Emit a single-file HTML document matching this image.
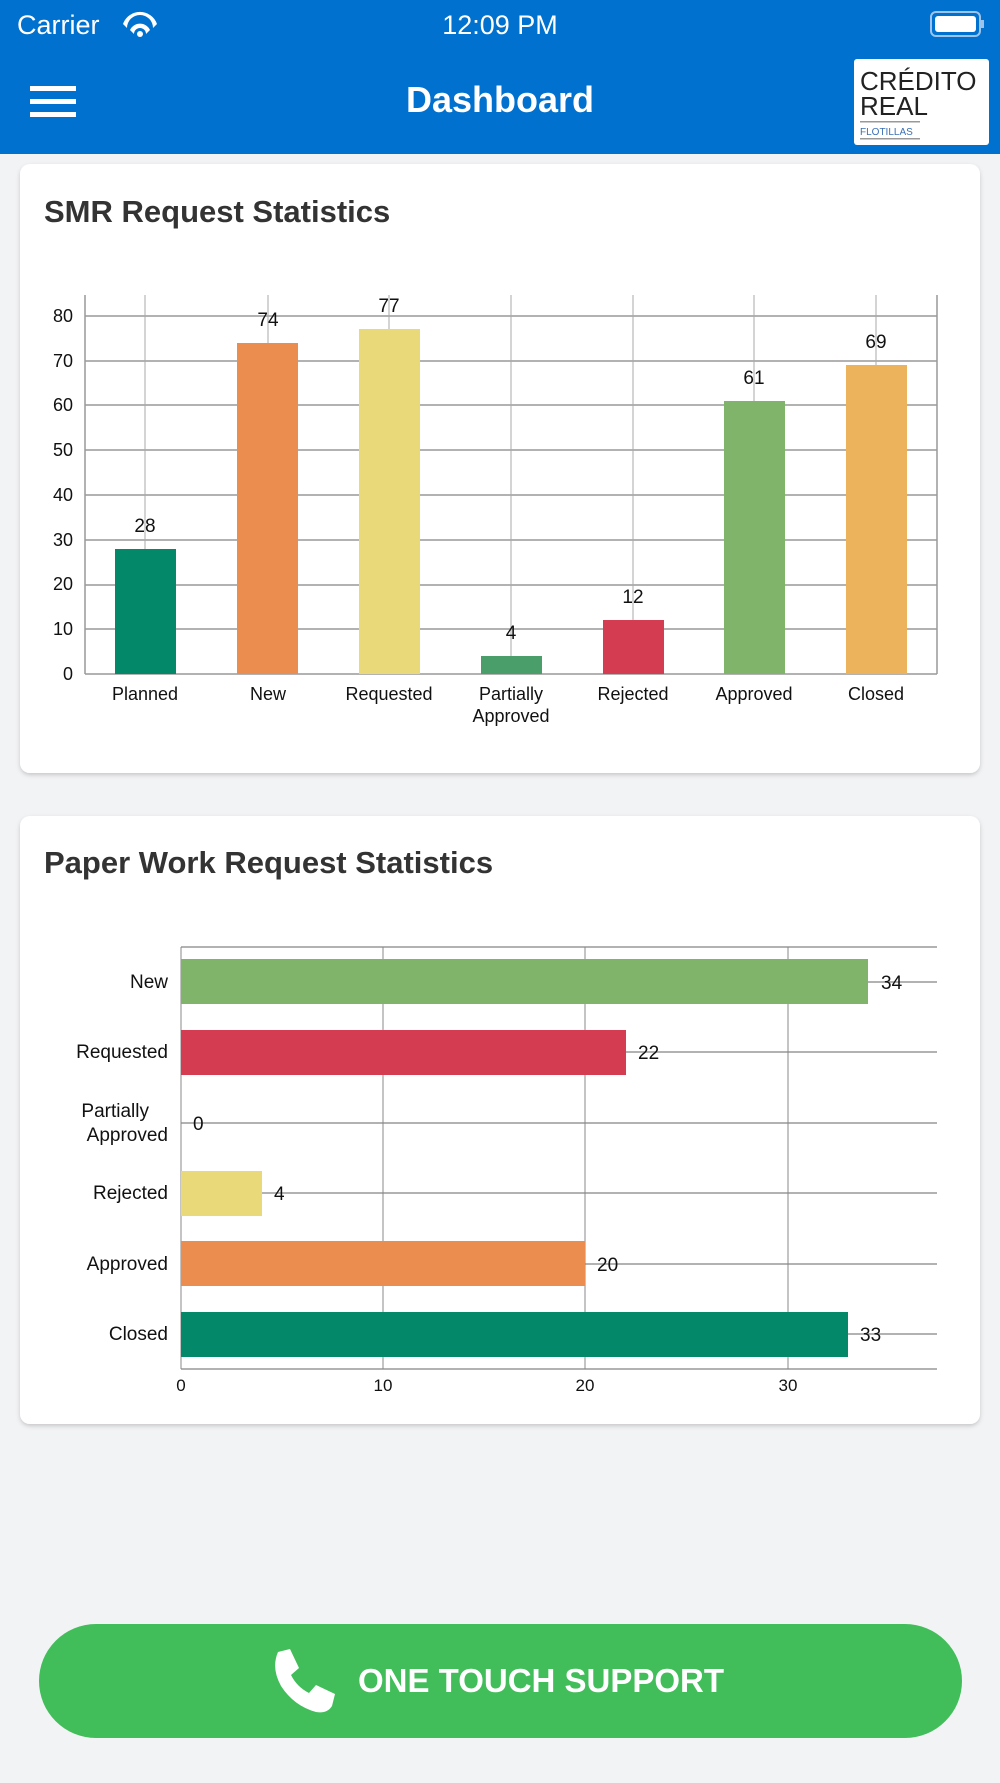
<!DOCTYPE html>
<html><head><meta charset="utf-8"><style>
html,body{margin:0;padding:0;background:#f2f3f5;}
body{width:1000px;height:1778px;overflow:hidden;font-family:"Liberation Sans",sans-serif;}
</style></head><body>
<svg width="1000" height="1778" xmlns="http://www.w3.org/2000/svg" font-family="Liberation Sans, sans-serif">
<defs><filter id="sh" x="-5%" y="-5%" width="110%" height="110%"><feDropShadow dx="0" dy="2" stdDeviation="2" flood-color="#000" flood-opacity="0.18"/></filter></defs>
<rect width="1000" height="1778" fill="#f2f3f5"/>
<rect width="1000" height="154" fill="#0071ce"/>
<text x="17" y="34" font-size="27" fill="#fff">Carrier</text>
<g fill="#fff"><path d="M123 24 a18 18 0 0 1 34 0 l-4 4 a13 13 0 0 0 -26 0z"/><path d="M130 30 a11 11 0 0 1 20 0 l-4 4 a6 6 0 0 0 -12 0z"/><circle cx="140" cy="34" r="3"/></g>
<text x="500" y="34" font-size="27" fill="#fff" text-anchor="middle">12:09 PM</text>
<rect x="931" y="12" width="49" height="24" rx="5" fill="none" stroke="#9cc3ec" stroke-width="2"/>
<rect x="935" y="16" width="41" height="16" rx="3" fill="#fff"/>
<rect x="981" y="20" width="3" height="8" fill="#9cc3ec"/>
<rect x="30" y="86" width="46" height="5" fill="#fff"/><rect x="30" y="99" width="46" height="5" fill="#fff"/><rect x="30" y="112" width="46" height="5" fill="#fff"/>
<text x="500" y="112" font-size="36" font-weight="bold" fill="#fff" text-anchor="middle">Dashboard</text>
<rect x="854" y="59" width="135" height="86" rx="3" fill="#fff"/>
<text x="860" y="90" font-size="26" fill="#222">CRÉDITO</text>
<text x="860" y="115" font-size="26" fill="#222">REAL</text>
<rect x="860" y="121" width="60" height="1.5" fill="#999"/>
<text x="860" y="135" font-size="10" fill="#3a6fb5">FLOTILLAS</text>
<rect x="860" y="138" width="60" height="1.5" fill="#999"/>

<rect x="20" y="164" width="960" height="609" rx="10" fill="#fff" filter="url(#sh)"/>
<text x="44" y="222" font-size="31" font-weight="bold" fill="#333">SMR Request Statistics</text>
<g stroke="#999" stroke-width="1.5">
<line x1="85" y1="674" x2="937" y2="674"/><line x1="85" y1="629" x2="937" y2="629"/><line x1="85" y1="585" x2="937" y2="585"/><line x1="85" y1="540" x2="937" y2="540"/><line x1="85" y1="495" x2="937" y2="495"/><line x1="85" y1="450" x2="937" y2="450"/><line x1="85" y1="405" x2="937" y2="405"/><line x1="85" y1="361" x2="937" y2="361"/><line x1="85" y1="316" x2="937" y2="316"/>
<line x1="85" y1="295" x2="85" y2="674"/><line x1="937" y1="295" x2="937" y2="674"/>
</g>
<g stroke="#aaa" stroke-width="1">
<line x1="145" y1="295" x2="145" y2="674"/><line x1="268" y1="295" x2="268" y2="674"/><line x1="389" y1="295" x2="389" y2="674"/><line x1="511" y1="295" x2="511" y2="674"/><line x1="633" y1="295" x2="633" y2="674"/><line x1="754" y1="295" x2="754" y2="674"/><line x1="876" y1="295" x2="876" y2="674"/>
</g>
<g>
<rect x="115" y="549" width="61" height="125" fill="#03896a"/>
<rect x="237" y="343" width="61" height="331" fill="#eb8d4e"/>
<rect x="359" y="329" width="61" height="345" fill="#e9d979"/>
<rect x="481" y="656" width="61" height="18" fill="#4a9e6a"/>
<rect x="603" y="620" width="61" height="54" fill="#d43c51"/>
<rect x="724" y="401" width="61" height="273" fill="#80b46b"/>
<rect x="846" y="365" width="61" height="309" fill="#ecb35c"/>
</g>
<g font-size="19" fill="#111" text-anchor="middle">
<text x="145" y="532">28</text><text x="268" y="326">74</text><text x="389" y="312">77</text><text x="511" y="639">4</text><text x="633" y="603">12</text><text x="754" y="384">61</text><text x="876" y="348">69</text>
</g>
<g font-size="18" fill="#111" text-anchor="end">
<text x="73" y="680">0</text><text x="73" y="635">10</text><text x="73" y="590">20</text><text x="73" y="546">30</text><text x="73" y="501">40</text><text x="73" y="456">50</text><text x="73" y="411">60</text><text x="73" y="367">70</text><text x="73" y="322">80</text>
</g>
<g font-size="18" fill="#111" text-anchor="middle">
<text x="145" y="700">Planned</text><text x="268" y="700">New</text><text x="389" y="700">Requested</text><text x="511" y="700">Partially</text><text x="511" y="722">Approved</text><text x="633" y="700">Rejected</text><text x="754" y="700">Approved</text><text x="876" y="700">Closed</text>
</g>

<rect x="20" y="816" width="960" height="608" rx="10" fill="#fff" filter="url(#sh)"/>
<text x="44" y="873" font-size="31" font-weight="bold" fill="#333">Paper Work Request Statistics</text>
<g stroke="#999" stroke-width="1.5">
<line x1="181" y1="947" x2="937" y2="947"/><line x1="181" y1="1369" x2="937" y2="1369"/>
<line x1="181" y1="982" x2="937" y2="982"/><line x1="181" y1="1052" x2="937" y2="1052"/><line x1="181" y1="1123" x2="937" y2="1123"/><line x1="181" y1="1193" x2="937" y2="1193"/><line x1="181" y1="1264" x2="937" y2="1264"/><line x1="181" y1="1334" x2="937" y2="1334"/>
</g>
<g stroke="#888" stroke-width="1">
<line x1="181" y1="947" x2="181" y2="1369"/><line x1="383" y1="947" x2="383" y2="1369"/><line x1="585" y1="947" x2="585" y2="1369"/><line x1="788" y1="947" x2="788" y2="1369"/>
</g>
<rect x="181" y="959" width="687" height="45" fill="#80b46b"/>
<rect x="181" y="1030" width="445" height="45" fill="#d43c51"/>
<rect x="181" y="1171" width="81" height="45" fill="#e9d979"/>
<rect x="181" y="1241" width="404" height="45" fill="#eb8d4e"/>
<rect x="181" y="1312" width="667" height="45" fill="#03896a"/>
<g font-size="19" fill="#111">
<text x="881" y="989">34</text><text x="638" y="1059">22</text><text x="193" y="1130">0</text><text x="274" y="1200">4</text><text x="597" y="1271">20</text><text x="860" y="1341">33</text>
</g>
<g font-size="19" fill="#111" text-anchor="end">
<text x="168" y="988">New</text><text x="168" y="1058">Requested</text><text x="149" y="1117">Partially</text><text x="168" y="1141">Approved</text><text x="168" y="1199">Rejected</text><text x="168" y="1270">Approved</text><text x="168" y="1340">Closed</text>
</g>
<g font-size="17" fill="#111" text-anchor="middle">
<text x="181" y="1391">0</text><text x="383" y="1391">10</text><text x="585" y="1391">20</text><text x="788" y="1391">30</text>
</g>

<rect x="39" y="1624" width="923" height="114" rx="57" fill="#41be5a"/>
<path d="M278 1652 l12 -3 l9 19 l-8 7 q6 12 18 18 l7 -8 l19 9 l-3 12 q-5 8 -16 6 q-22 -6 -35 -26 q-10 -18 -3 -34z" fill="#fff"/>
<text x="541" y="1692" font-size="33" font-weight="bold" fill="#fff" text-anchor="middle">ONE TOUCH SUPPORT</text>
</svg>
</body></html>
